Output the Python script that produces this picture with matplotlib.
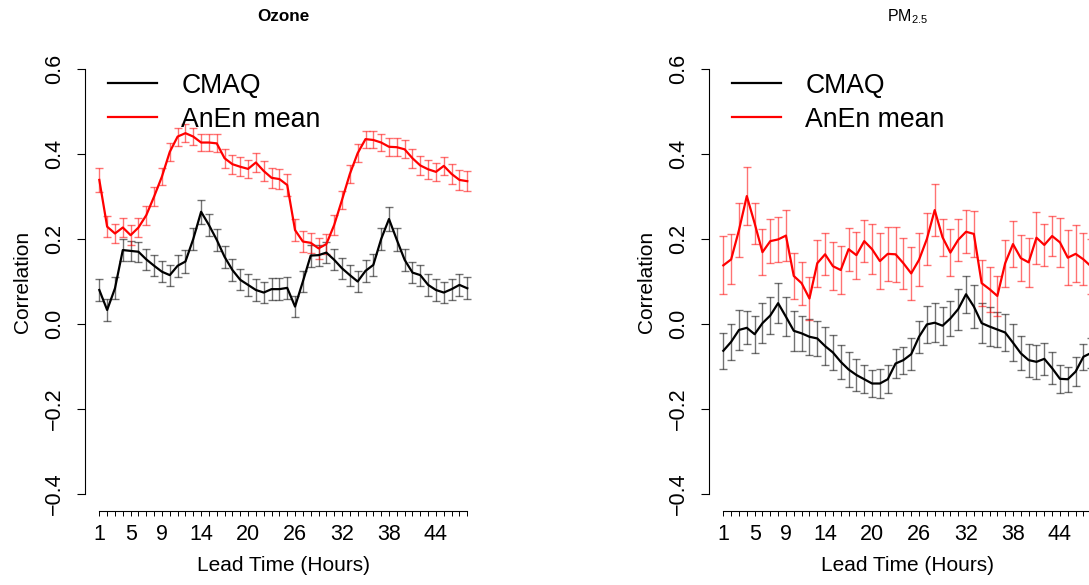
import matplotlib
matplotlib.use("Agg")
import matplotlib.pyplot as plt
import numpy as np

plt.rcParams["font.family"] = ["Liberation Sans", "DejaVu Sans"]

# lead times and sparse tick labels
lead = list(range(1, 49))
tick_lab = [1, 5, 9, 14, 20, 26, 32, 38, 44]

# --- Ozone ---
oz_cmaq = [0.080, 0.033, 0.084, 0.174, 0.172, 0.170, 0.152, 0.137, 0.123, 0.115, 0.137, 0.147,
           0.200, 0.264, 0.233, 0.198, 0.158, 0.127, 0.104, 0.092, 0.080, 0.074, 0.082, 0.082,
           0.085, 0.041, 0.100, 0.161, 0.162, 0.168, 0.151, 0.131, 0.115, 0.100, 0.125, 0.139,
           0.200, 0.247, 0.198, 0.151, 0.121, 0.115, 0.092, 0.080, 0.074, 0.082, 0.092, 0.084]
oz_cmaq_err = [0.027, 0.027, 0.026, 0.025, 0.024, 0.024, 0.024, 0.025, 0.025, 0.025, 0.026, 0.026,
               0.027, 0.028, 0.027, 0.026, 0.026, 0.025, 0.025, 0.025, 0.025, 0.025, 0.026, 0.026,
               0.026, 0.024, 0.025, 0.026, 0.025, 0.025, 0.025, 0.025, 0.025, 0.025, 0.026, 0.026,
               0.027, 0.028, 0.027, 0.026, 0.025, 0.025, 0.025, 0.025, 0.025, 0.025, 0.026, 0.026]
oz_anen = [0.339, 0.229, 0.213, 0.227, 0.209, 0.227, 0.256, 0.300, 0.347, 0.405, 0.441, 0.449,
           0.441, 0.427, 0.427, 0.425, 0.390, 0.376, 0.370, 0.365, 0.380, 0.360, 0.344, 0.341,
           0.327, 0.221, 0.194, 0.191, 0.178, 0.188, 0.233, 0.292, 0.353, 0.402, 0.435, 0.433,
           0.427, 0.417, 0.416, 0.411, 0.390, 0.373, 0.364, 0.358, 0.372, 0.353, 0.339, 0.336]
oz_anen_err = [0.028, 0.025, 0.022, 0.023, 0.023, 0.022, 0.022, 0.022, 0.021, 0.021, 0.021, 0.021,
               0.020, 0.020, 0.021, 0.021, 0.022, 0.022, 0.022, 0.022, 0.022, 0.023, 0.023, 0.023,
               0.025, 0.026, 0.025, 0.024, 0.024, 0.024, 0.023, 0.022, 0.021, 0.021, 0.020, 0.020,
               0.020, 0.021, 0.021, 0.021, 0.022, 0.022, 0.022, 0.022, 0.022, 0.023, 0.023, 0.023]

# --- PM2.5 ---
pm_cmaq = [-0.063, -0.042, -0.014, -0.009, -0.024, 0.002, 0.020, 0.049, 0.017, -0.016, -0.022, -0.030,
           -0.034, -0.052, -0.067, -0.089, -0.107, -0.120, -0.130, -0.140, -0.140, -0.130, -0.093, -0.085,
           -0.071, -0.030, -0.001, 0.003, -0.004, 0.013, 0.035, 0.070, 0.041, 0.002, -0.006, -0.013,
           -0.020, -0.044, -0.069, -0.085, -0.089, -0.082, -0.104, -0.129, -0.130, -0.112, -0.077, -0.068]
pm_cmaq_err = [0.042, 0.042, 0.046, 0.039, 0.044, 0.047, 0.044, 0.047, 0.046, 0.047, 0.042, 0.042,
               0.041, 0.045, 0.042, 0.040, 0.042, 0.037, 0.033, 0.031, 0.033, 0.033, 0.034, 0.032,
               0.038, 0.038, 0.044, 0.046, 0.045, 0.042, 0.048, 0.043, 0.051, 0.047, 0.046, 0.041,
               0.043, 0.043, 0.040, 0.039, 0.040, 0.038, 0.037, 0.033, 0.029, 0.035, 0.031, 0.035]
pm_anen = [0.138, 0.152, 0.221, 0.301, 0.237, 0.169, 0.195, 0.199, 0.208, 0.113, 0.096, 0.060,
           0.143, 0.164, 0.136, 0.127, 0.176, 0.162, 0.195, 0.176, 0.148, 0.165, 0.164, 0.143,
           0.119, 0.151, 0.200, 0.268, 0.204, 0.168, 0.198, 0.217, 0.212, 0.096, 0.082, 0.066,
           0.143, 0.188, 0.155, 0.145, 0.203, 0.186, 0.207, 0.192, 0.156, 0.165, 0.152, 0.135]
pm_anen_err = [0.068, 0.059, 0.063, 0.069, 0.048, 0.054, 0.051, 0.053, 0.060, 0.053, 0.051, 0.051,
               0.055, 0.049, 0.056, 0.057, 0.051, 0.055, 0.049, 0.059, 0.065, 0.063, 0.065, 0.060,
               0.063, 0.062, 0.062, 0.062, 0.044, 0.056, 0.049, 0.051, 0.054, 0.054, 0.053, 0.048,
               0.055, 0.054, 0.054, 0.058, 0.061, 0.049, 0.047, 0.058, 0.065, 0.067, 0.061, 0.065]

W, H = 1089, 585
fig = plt.figure(figsize=(W / 100, H / 100), dpi=100)

def panel(left_px, title, cmaq, cmaq_err, anen, anen_err, bold):
    ax = fig.add_axes([left_px / W, (H - 511) / H, 397.4 / W, 459 / H])
    ax.errorbar(lead, cmaq, yerr=cmaq_err, fmt="none", ecolor=(0, 0, 0, 0.55),
                elinewidth=1.0, capsize=2.6, capthick=1.0)
    ax.errorbar(lead, anen, yerr=anen_err, fmt="none", ecolor=(1, 0, 0, 0.55),
                elinewidth=1.0, capsize=2.6, capthick=1.0)
    ax.plot(lead, cmaq, color="black", lw=1.6, label="CMAQ")
    ax.plot(lead, anen, color="red", lw=1.6, label="AnEn mean")
    ax.set_xlim(-0.88, 49.88)
    ax.set_ylim(-0.44, 0.64)
    for s in ("top", "right"):
        ax.spines[s].set_visible(False)
    ax.spines["left"].set_bounds(-0.4, 0.6)
    ax.spines["bottom"].set_bounds(1, 48)
    ax.spines["left"].set_linewidth(0.8)
    ax.spines["bottom"].set_linewidth(0.8)
    ax.set_xticks(lead)
    ax.set_xticklabels([str(v) if v in tick_lab else "" for v in lead])
    ax.set_yticks([-0.4, -0.2, 0.0, 0.2, 0.4, 0.6])
    ax.set_yticklabels(["\u22120.4", "\u22120.2", "0.0", "0.2", "0.4", "0.6"])
    ax.tick_params(axis="x", length=3.6, width=0.7, labelsize=15.5, pad=6)
    ax.tick_params(axis="y", length=5.8, width=0.8, labelsize=15.5, pad=8, labelrotation=90)
    for t in ax.get_yticklabels():
        t.set_va("center")
    ax.set_xlabel("Lead Time (Hours)", fontsize=15)
    ax.xaxis.set_label_coords(0.5, -0.098)
    ax.set_ylabel("Correlation", fontsize=15)
    ax.yaxis.set_label_coords(-0.132, 0.5)
    ax.set_title(title, fontsize=12.3 if bold else 11.5,
                 fontweight="bold" if bold else "normal",
                 y=1 + (52 - 16.7) / 459, pad=0, va="center")
    ax.legend(loc="upper left", bbox_to_anchor=(0.059, 0.955), frameon=False,
              fontsize=19.2, handlelength=1.85, handletextpad=0.9, labelspacing=0.3,
              borderpad=0, borderaxespad=0)
    return ax

panel(84.6, "Ozone", oz_cmaq, oz_cmaq_err, oz_anen, oz_anen_err, True)
panel(708.6, r"PM$_\mathregular{2.5}$", pm_cmaq, pm_cmaq_err, pm_anen, pm_anen_err, False)

fig.savefig("out.png", dpi=100)
